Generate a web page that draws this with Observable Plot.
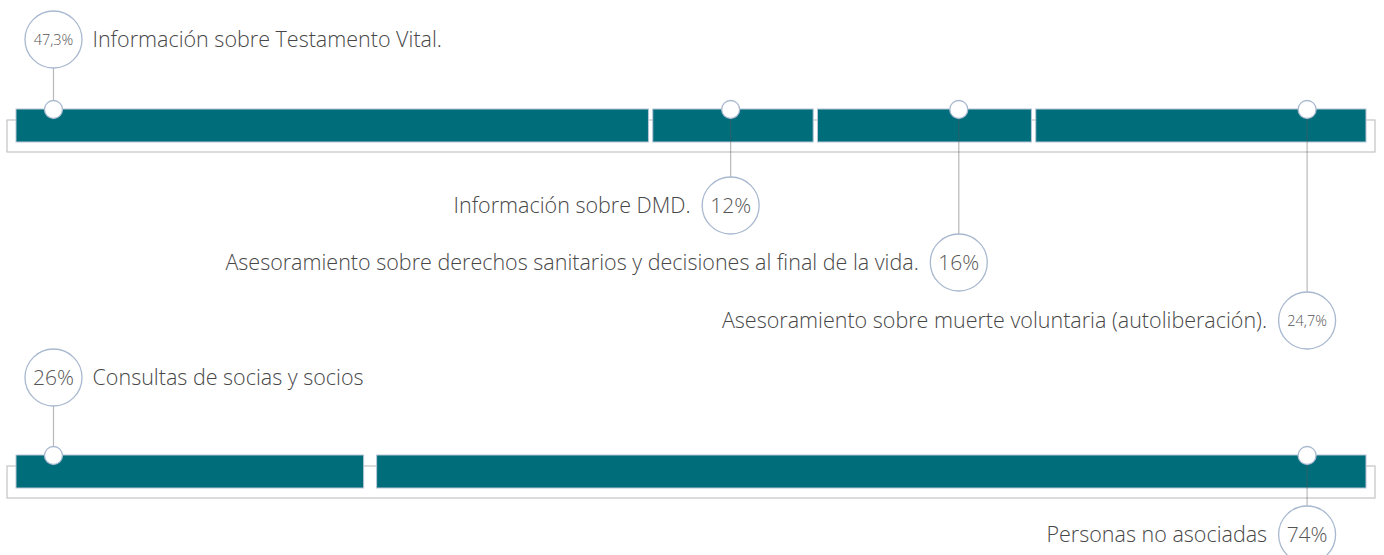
<!DOCTYPE html>
<html>
<head>
<meta charset="utf-8">
<script src="https://cdn.jsdelivr.net/npm/d3@7"></script>
<script src="https://cdn.jsdelivr.net/npm/@observablehq/plot@0.6"></script>
<style>
  html, body { margin: 0; padding: 0; background: #fff; }
  #chart svg { display: block; }
</style>
</head>
<body>
<div id="chart"></div>
<script>
// ---- Data ----
const servicios = [
  "Información sobre Testamento Vital.",
  "Información sobre DMD.",
  "Asesoramiento sobre derechos sanitarios y decisiones al final de la vida.",
  "Asesoramiento sobre muerte voluntaria (autoliberación)."
];
const serviciosPct = [47.3, 12, 16, 24.7];
const serviciosEtiqueta = ["47,3%", "12%", "16%", "24,7%"];
const serviciosMarca = [2.74, 52.9, 69.8, 95.6];   // anchor of each callout on the 0–100 axis
const serviciosNivel = [0, 1, 2, 3];

const consultantes = ["Consultas de socias y socios", "Personas no asociadas"];
const consultantesPct = [26, 74];
const consultantesEtiqueta = ["26%", "74%"];
const consultantesMarca = [2.74, 95.6];
const consultantesNivel = [0, 1];

// ---- Layout (not data) ----
const W = 1384, H = 555;
const X0 = 16, X1 = 1366;
const unitsPerPx = 100 / (X1 - X0);
const filas = [
  {top: 109, gapPx: 4.3, niveles: [39, 205, 262, 320]},
  {top: 455, gapPx: 13, niveles: [377, 534]}
];
const barH = 33;
const R = 28.5;

function buildRow(names, pct, etiquetas, marcas, niveles, fila) {
  const n = pct.length;
  const g = fila.gapPx * unitsPerPx;
  const k = (100 - (n - 1) * g) / 100;
  let cum = 0;
  const segs = names.map((name, i) => {
    const x1 = cum * k + i * g;
    const x2 = x1 + pct[i] * k;
    cum += pct[i];
    const cy = fila.niveles[niveles[i]];
    return {
      name, pct: pct[i], etiqueta: etiquetas[i], marca: marcas[i], nivel: niveles[i],
      x1, x2, y1: fila.top, y2: fila.top + barH, cy,
      ly2: niveles[i] === 0 ? cy + R : cy - R
    };
  });
  return {segs, fila};
}

const rows = [
  buildRow(servicios, serviciosPct, serviciosEtiqueta, serviciosMarca, serviciosNivel, filas[0]),
  buildRow(consultantes, consultantesPct, consultantesEtiqueta, consultantesMarca, consultantesNivel, filas[1])
];
const allSegs = rows.flatMap(r => r.segs);
const frames = rows.map(r => ({y1: r.fila.top + 11, y2: r.fila.top + barH + 10}));

const font = "'Segoe UI', 'Open Sans', sans-serif";
const teal = "#006d7b";
const ring = "#a8b8cf";

const chart = Plot.plot({
  width: W, height: H,
  margin: 0,
  style: {fontFamily: font, background: "#fff"},
  x: {domain: [0, 100], range: [X0, X1], axis: null},
  y: {type: "linear", domain: [0, H], range: [0, H], axis: null},
  marks: [
    // bracket frame behind each row
    Plot.rect(frames, {x1: () => 0, x2: () => 100, y1: "y1", y2: "y2",
      fill: "none", stroke: "#c4c4c4", strokeWidth: 1.2, insetLeft: -9, insetRight: -9}),
    // bars
    Plot.rect(allSegs, {x1: "x1", x2: "x2", y1: "y1", y2: "y2",
      fill: teal, stroke: "#b7c6d6", strokeWidth: 1}),
    // leader lines
    Plot.link(allSegs, {x1: "marca", x2: "marca", y1: "y1", y2: "ly2",
      stroke: "#555", strokeOpacity: 0.42, strokeWidth: 1.2}),
    // small anchor circles
    Plot.dot(allSegs, {x: "marca", y: "y1", r: 9, fill: "#fff", stroke: ring, strokeWidth: 1.3}),
    // big callout circles
    Plot.dot(allSegs, {x: "marca", y: "cy", r: R, fill: "#fff", stroke: ring, strokeWidth: 1.3}),
    // percentages inside circles
    Plot.text(allSegs.filter(d => d.etiqueta.length <= 3), {x: "marca", y: "cy", text: "etiqueta",
      fill: "#555", fontSize: 21, fontWeight: 300, dy: 1}),
    Plot.text(allSegs.filter(d => d.etiqueta.length > 3), {x: "marca", y: "cy", text: "etiqueta",
      fill: "#555", fontSize: 14.5, fontWeight: 300, dy: 1}),
    // category labels
    Plot.text(allSegs.filter(d => d.nivel === 0), {x: "marca", y: "cy", text: "name",
      textAnchor: "start", dx: 39, fill: "#474747", fontSize: 21.5, fontWeight: 300, dy: 1}),
    Plot.text(allSegs.filter(d => d.nivel > 0), {x: "marca", y: "cy", text: "name",
      textAnchor: "end", dx: -40, fill: "#474747", fontSize: 21.5, fontWeight: 300, dy: 1})
  ]
});
document.getElementById("chart").appendChild(chart);
</script>
</body>
</html>
